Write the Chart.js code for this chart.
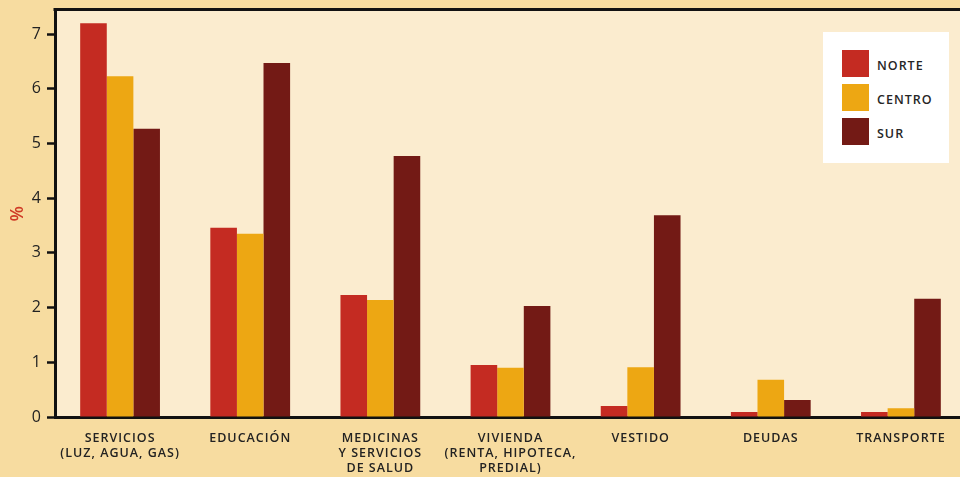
<!DOCTYPE html>
<html>
<head>
<meta charset="utf-8">
<script src="https://cdn.jsdelivr.net/npm/chart.js@4"></script>
<style>
  html, body { margin: 0; padding: 0; background: #f7dca0; overflow: hidden; }
  #wrap { position: relative; width: 966px; height: 477px; }
  #legend {
    position: absolute; left: 823px; top: 32px; width: 126px; height: 131px;
    background: #ffffff; font-family: "Open Sans", sans-serif; font-size: 12.5px;
    font-weight: 600; letter-spacing: 1px; color: #262626;
  }
  #legend .item { position: absolute; left: 19px; height: 27px; display: flex; align-items: center; }
  #legend .sw { width: 27px; height: 27px; margin-right: 8px; }
  #legend .tx { position: relative; top: 2px; }
</style>
</head>
<body>
<div id="wrap">
  <canvas id="gastos"></canvas>
  <div id="legend"></div>
</div>
<script>
// categorías de gasto (eje X)
const categorias = [
  ['SERVICIOS', '(LUZ, AGUA, GAS)'],
  'EDUCACIÓN',
  ['MEDICINAS', 'Y SERVICIOS', 'DE SALUD'],
  ['VIVIENDA', '(RENTA, HIPOTECA,', 'PREDIAL)'],
  'VESTIDO',
  'DEUDAS',
  'TRANSPORTE'
];

// porcentaje por región
const norte  = [7.20, 3.46, 2.23, 0.95, 0.20, 0.09, 0.09];
const centro = [6.23, 3.35, 2.14, 0.90, 0.91, 0.68, 0.16];
const sur    = [5.27, 6.47, 4.77, 2.03, 3.69, 0.31, 2.16];

const regiones = ['NORTE', 'CENTRO', 'SUR'];
const colores  = ['#c42b22', '#eda713', '#731a15'];

const yTicks = [0, 1, 2, 3, 4, 5, 6, 7];

// fondo claro del área de trazado + línea superior del marco
const marcoPlugin = {
  id: 'marco',
  beforeLayout(chart) { chart.ctx.letterSpacing = '1px'; },
  beforeDraw(chart) {
    const { ctx, chartArea: a } = chart;
    ctx.save();
    ctx.fillStyle = '#fbeccf';
    ctx.fillRect(a.left, a.top, a.right - a.left, a.bottom - a.top);
    ctx.restore();
    ctx.letterSpacing = '1px';
  },
  afterDraw(chart) {
    const { ctx, chartArea: a } = chart;
    ctx.save();
    ctx.beginPath();
    ctx.moveTo(a.left - 1.5, a.top);
    ctx.lineTo(a.right, a.top);
    ctx.strokeStyle = '#111';
    ctx.lineWidth = 3;
    ctx.stroke();
    ctx.restore();
  }
};

const series = [norte, centro, sur];

new Chart(document.getElementById('gastos'), {
  type: 'bar',
  data: {
    labels: categorias,
    datasets: regiones.map((r, i) => ({
      label: r,
      data: series[i],
      backgroundColor: colores[i],
      borderWidth: 0,
      barPercentage: 1,
      categoryPercentage: 0.613
    }))
  },
  options: {
    responsive: true,
    maintainAspectRatio: false,
    animation: false,
    layout: { padding: { top: 9.5, left: 0, right: 0, bottom: 0 } },
    plugins: { legend: { display: false }, tooltip: { enabled: false } },
    scales: {
      x: {
        afterFit(s) { s.height = 60; },
        border: { display: true, color: '#111', width: 3 },
        grid: { display: false, drawTicks: false },
        ticks: {
          color: '#222',
          padding: 14,
          maxRotation: 0,
          autoSkip: false,
          font: { family: 'Open Sans', size: 12.5, weight: '600', lineHeight: 1.2 }
        }
      },
      y: {
        min: 0,
        max: 7.45,
        afterFit(s) { s.width = 55; s.paddingTop = 0; s.paddingBottom = 0; },
        afterBuildTicks(s) { s.ticks = yTicks.map(v => ({ value: v })); },
        border: { display: true, color: '#111', width: 3 },
        grid: { drawOnChartArea: false, drawTicks: true, tickLength: 8, tickColor: '#111', tickWidth: 2.5 },
        ticks: {
          color: '#222',
          padding: 5,
          font: { family: 'Open Sans', size: 16 }
        },
        title: {
          display: true,
          text: '%',
          color: '#cf3a26',
          padding: { top: 7, bottom: 0 },
          font: { family: 'Open Sans', size: 18, weight: '600' }
        }
      }
    }
  },
  plugins: [marcoPlugin]
});

// leyenda
const leg = document.getElementById('legend');
regiones.forEach((r, i) => {
  const it = document.createElement('div');
  it.className = 'item';
  it.style.top = (18 + i * 34) + 'px';
  it.innerHTML = '<span class="sw" style="background:' + colores[i] + '"></span><span class="tx">' + r + '</span>';
  leg.appendChild(it);
});
</script>
</body>
</html>
